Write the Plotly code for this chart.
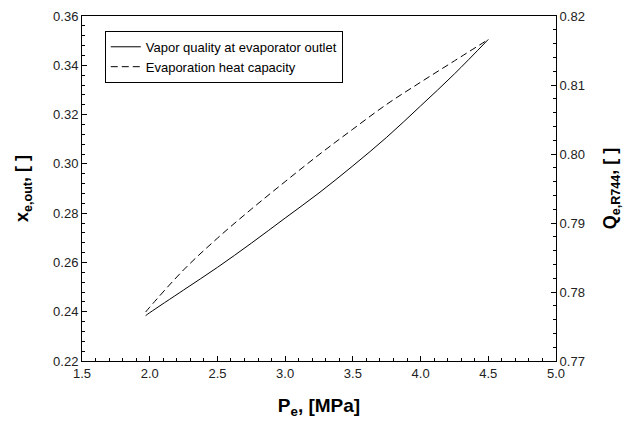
import plotly.graph_objects as go

# Data
pressure = [1.97, 2.0, 2.25, 2.5, 2.75, 3.0, 3.25, 3.5, 3.75, 4.0, 4.25, 4.5]
vapor_quality = [0.2384, 0.2396, 0.2488, 0.2580, 0.2678, 0.2780, 0.2882,
                 0.2992, 0.3108, 0.3235, 0.3365, 0.3505]
heat_capacity = [0.7771, 0.7778, 0.7832, 0.7878, 0.7920, 0.7960, 0.7999,
                 0.8036, 0.8072, 0.8104, 0.8135, 0.8166]

series_names = ["Vapor quality at evaporator outlet", "Evaporation heat capacity"]

font_family = "Arial, Liberation Sans, sans-serif"
tick_color = "#222222"

fig = go.Figure()
fig.add_trace(go.Scatter(
    x=pressure, y=vapor_quality, mode="lines", name=series_names[0],
    line=dict(color="black", width=1, shape="spline"), yaxis="y"))
fig.add_trace(go.Scatter(
    x=pressure, y=heat_capacity, mode="lines", name=series_names[1],
    line=dict(color="black", width=1, dash="7px,4px", shape="spline"), yaxis="y2"))

axis_common = dict(
    showline=True, linecolor="black", linewidth=1,
    ticks="inside", ticklen=5, tickwidth=1, tickcolor="black",
    showgrid=False, zeroline=False, automargin=False,
    tickfont=dict(family=font_family, size=13, color=tick_color),
)

ytitle_font = dict(size=18, family=font_family, color="black")
xtitle_font = dict(size=19, family=font_family, color="black")

fig.update_layout(
    width=635, height=421,
    margin=dict(l=82, r=79, t=16, b=60),
    paper_bgcolor="white", plot_bgcolor="white",
    font=dict(family=font_family, color="black"),
    xaxis=dict(
        **axis_common, range=[1.5, 5.0], dtick=0.5, tick0=1.5, tickformat=".1f",
        mirror=True,
        minor=dict(ticks="inside", ticklen=3, dtick=0.1, tickcolor="black", showgrid=False),
        title=dict(text="<b>P<sub>e</sub>, [MPa]</b>", font=xtitle_font, standoff=19),
    ),
    yaxis=dict(
        **axis_common, range=[0.22, 0.36], dtick=0.02, tick0=0.22, tickformat=".2f",
        minor=dict(ticks="inside", ticklen=3, dtick=0.004, tickcolor="black", showgrid=False),
        title=dict(text="<b>x<sub>e,out</sub>, [ ]</b>", font=ytitle_font, standoff=19),
    ),
    yaxis2=dict(
        **axis_common, range=[0.77, 0.82], dtick=0.01, tick0=0.77, tickformat=".2f",
        overlaying="y", side="right",
        minor=dict(ticks="inside", ticklen=3, dtick=0.002, tickcolor="black", showgrid=False),
        title=dict(text="<b>Q<sub>e,R744</sub>, [ ]</b>", font=ytitle_font, standoff=19),
    ),
    legend=dict(
        x=0.048, y=0.957, xanchor="left", yanchor="top",
        bordercolor="black", borderwidth=1, bgcolor="white",
        font=dict(family=font_family, size=13, color="black"),
        tracegroupgap=0,
    ),
    showlegend=True,
)

fig.write_html("out.html", config={"displayModeBar": False},
               post_script="document.body.style.margin='0';")
